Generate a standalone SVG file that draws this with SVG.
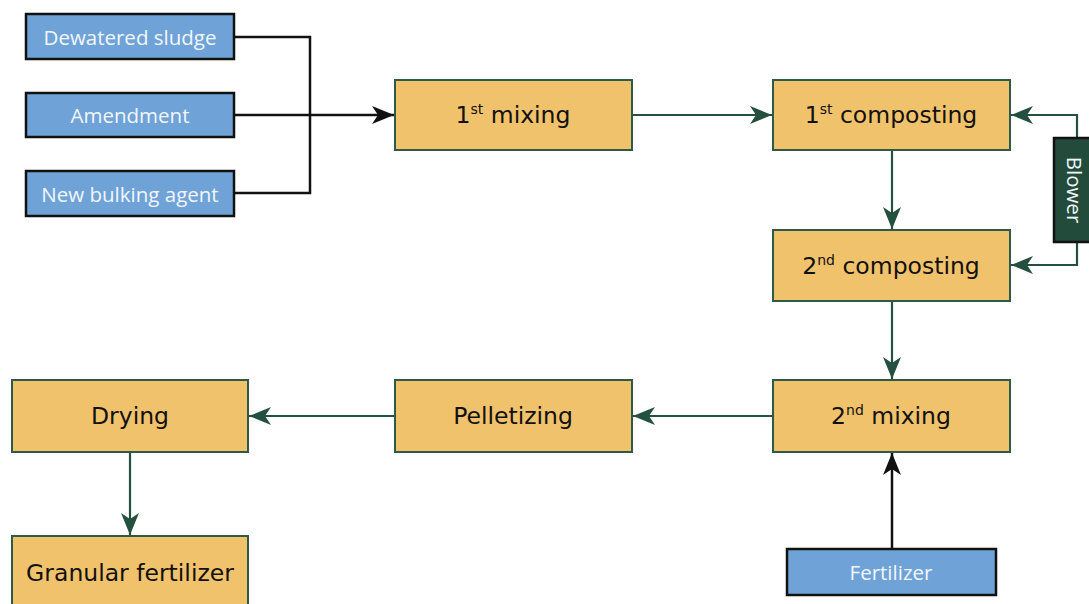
<svg xmlns="http://www.w3.org/2000/svg" width="1089" height="604" viewBox="0 0 1089 604">
<style>
.proc{fill:#F0C26B;stroke:#2E5A48;stroke-width:2}
.inp{fill:#6FA3D8;stroke:#111;stroke-width:2.5}
.blw{fill:#234B3C;stroke:#111;stroke-width:2.5}
.pt{font-family:"DejaVu Sans","Open Sans",sans-serif;font-size:23.5px;fill:#111;text-anchor:middle;dominant-baseline:central}
.it{font-family:"Open Sans",sans-serif;font-size:20.5px;fill:#F2F6FA;text-anchor:middle;dominant-baseline:central}
.g{fill:none;stroke:#24503F;stroke-width:2.2}
.k{fill:none;stroke:#111;stroke-width:2.5}
</style>
<defs>
<marker id="ag" markerUnits="userSpaceOnUse" markerWidth="24" markerHeight="20" refX="22" refY="9" orient="auto"><path d="M0,0 L22,9 L0,18 L6,9 z" fill="#24503F"/></marker>
<marker id="ak" markerUnits="userSpaceOnUse" markerWidth="24" markerHeight="20" refX="22" refY="9" orient="auto"><path d="M0,0 L22,9 L0,18 L6,9 z" fill="#111"/></marker>
</defs>
<rect width="1089" height="604" fill="#fff"/>
<g id="connectors">
<polyline class="k" points="235,37 310,37 310,193 235,193"/>
<line class="k" x1="235" y1="115" x2="394" y2="115" marker-end="url(#ak)"/>
<line class="g" x1="632" y1="115" x2="772" y2="115" marker-end="url(#ag)"/>
<line class="g" x1="892" y1="150" x2="892" y2="229" marker-end="url(#ag)"/>
<line class="g" x1="892" y1="301" x2="892" y2="379" marker-end="url(#ag)"/>
<polyline class="g" points="1077,138 1077,115 1011,115" marker-end="url(#ag)"/>
<polyline class="g" points="1077,242 1077,265 1011,265" marker-end="url(#ag)"/>
<line class="g" x1="773" y1="416" x2="633" y2="416" marker-end="url(#ag)"/>
<line class="g" x1="395" y1="416" x2="249" y2="416" marker-end="url(#ag)"/>
<line class="g" x1="130" y1="452" x2="130" y2="535" marker-end="url(#ag)"/>
<line class="k" x1="892" y1="549" x2="892" y2="453" marker-end="url(#ak)"/>
</g>
<g id="dewatered"><rect class="inp" x="26" y="14" width="208" height="45"/><text class="it" x="130" y="37">Dewatered sludge</text></g>
<g id="amendment"><rect class="inp" x="26" y="93" width="208" height="44"/><text class="it" x="130" y="115">Amendment</text></g>
<g id="bulking"><rect class="inp" x="26" y="171" width="208" height="45"/><text class="it" x="130" y="194">New bulking agent</text></g>
<g id="mix1"><rect class="proc" x="395" y="80" width="237" height="70"/><text class="pt" x="513" y="115">1<tspan font-size="14" dy="-6">st</tspan><tspan dy="6"> mixing</tspan></text></g>
<g id="comp1"><rect class="proc" x="773" y="80" width="237" height="70"/><text class="pt" x="891" y="115">1<tspan font-size="14" dy="-6">st</tspan><tspan dy="6"> composting</tspan></text></g>
<g id="comp2"><rect class="proc" x="773" y="230" width="237" height="71"/><text class="pt" x="891" y="266">2<tspan font-size="14" dy="-6">nd</tspan><tspan dy="6"> composting</tspan></text></g>
<g id="blower"><rect class="blw" x="1054" y="138" width="40" height="104"/><text class="it" x="1075" y="190" font-size="19" transform="rotate(90 1075 190)">Blower</text></g>
<g id="mix2"><rect class="proc" x="773" y="380" width="237" height="72"/><text class="pt" x="891" y="416">2<tspan font-size="14" dy="-6">nd</tspan><tspan dy="6"> mixing</tspan></text></g>
<g id="pellet"><rect class="proc" x="395" y="380" width="237" height="72"/><text class="pt" x="513" y="416">Pelletizing</text></g>
<g id="drying"><rect class="proc" x="12" y="380" width="236" height="72"/><text class="pt" x="130" y="416">Drying</text></g>
<g id="granular"><rect class="proc" x="12" y="536" width="236" height="80"/><text class="pt" x="130" y="573">Granular fertilizer</text></g>
<g id="fertilizer"><rect class="inp" x="787" y="549" width="209" height="46"/><text class="it" x="891" y="572">Fertilizer</text></g>
</svg>
